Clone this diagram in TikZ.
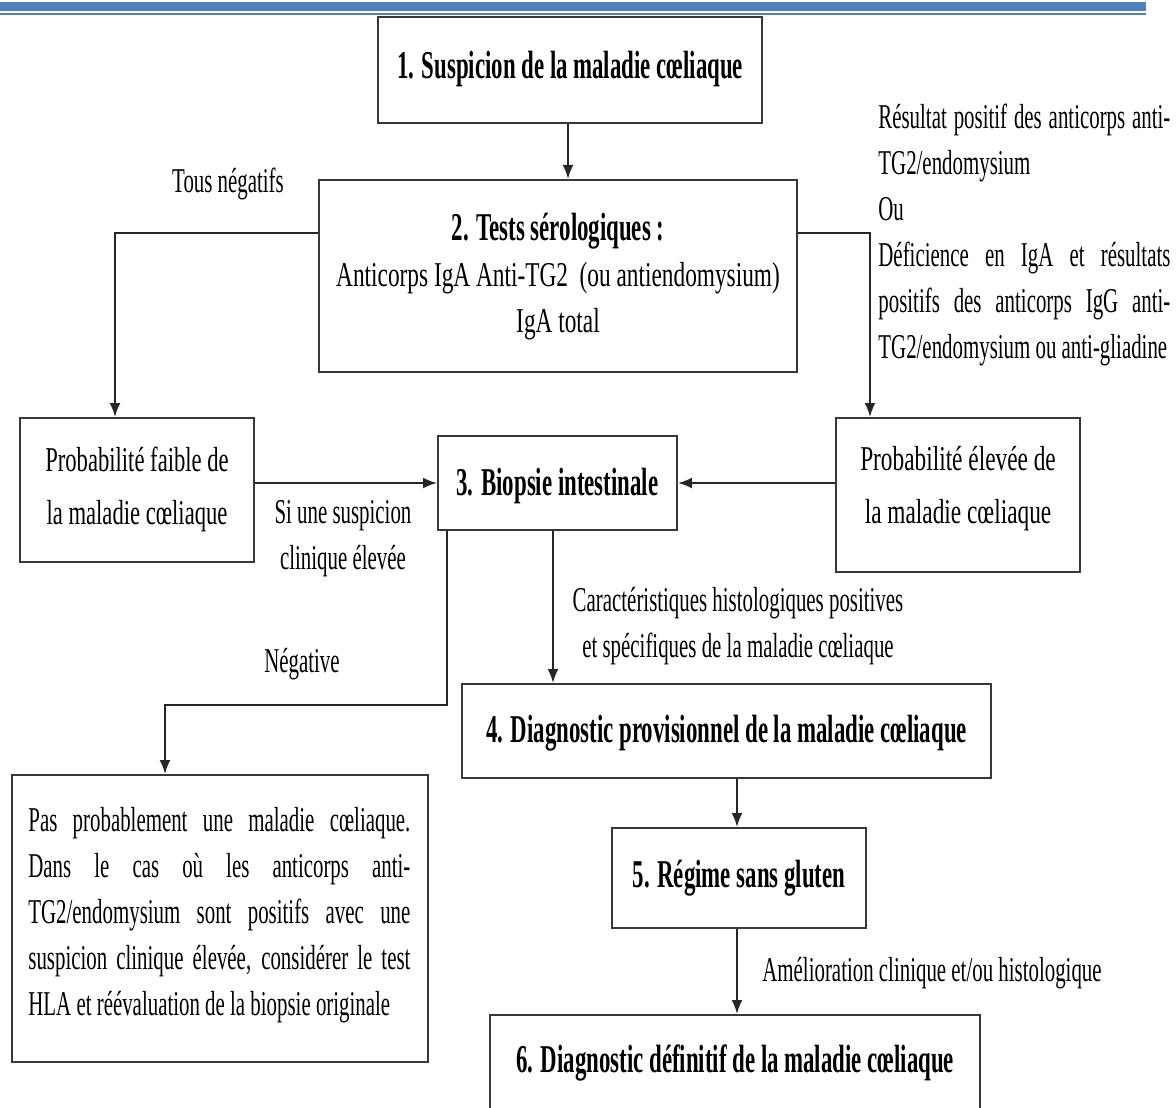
\documentclass[tikz,border=0pt]{standalone}
\usepackage{fontspec}
\setmainfont{Liberation Serif}[FakeStretch=0.67]
\newfontfamily\titlefont{Liberation Serif}[FakeStretch=0.58]
\newfontfamily\labfont{Liberation Serif}[FakeStretch=0.6]
\newfontfamily\boxlfont{Liberation Serif}[FakeStretch=0.65]
\usetikzlibrary{arrows.meta}
\definecolor{hdrblue}{HTML}{4F81BD}
\newcommand{\bodytxt}{\fontsize{17.4}{23}\selectfont}
\newcommand{\boxtxt}{\fontsize{17.4}{26.5}\selectfont}
\newcommand{\labtxt}{\labfont\fontsize{17.4}{23}\selectfont}
\newcommand{\boxltxt}{\boxlfont\fontsize{17.4}{26.5}\selectfont}
\newcommand{\ttl}{\titlefont\bfseries\fontsize{19.7}{23.5}\selectfont}
\newcommand{\jl}[2]{\makebox[#1][s]{#2}}
\begin{document}
\begin{tikzpicture}[x=0.5pt,y=-0.5pt,
  box/.style={draw=black!78,line width=1pt,inner sep=0pt,fill=white},
  txt/.style={inner sep=0pt,align=center,font=\bodytxt},
  ltxt/.style={inner sep=0pt,align=center,font=\labtxt},
  ttxt/.style={inner sep=0pt,align=center,font=\ttl},
  arr/.style={line width=1pt,draw=black!85,-{Latex[length=7pt,width=5.5pt]}}]
\useasboundingbox (0,0) rectangle (1176,1107);
\clip (0,0) rectangle (1176,1107);
% header lines
\fill[hdrblue] (0,2) rectangle (1146,11);
\fill[hdrblue] (0,13) rectangle (1146,15.5);
% boxes
\node[box,minimum width=192pt,minimum height=53pt] (b1) at (570,70) {};
\node[box,minimum width=239pt,minimum height=96pt] (b2) at (558,276) {};
\node[box,minimum width=117pt,minimum height=72pt] (bL) at (137,490) {};
\node[box,minimum width=119.5pt,minimum height=47pt] (b3) at (557.5,483) {};
\node[box,minimum width=122pt,minimum height=77pt] (bR) at (958,495) {};
\node[box,minimum width=264.5pt,minimum height=47pt] (b4) at (726.5,731) {};
\node[box,minimum width=127pt,minimum height=50pt] (b5) at (739,878) {};
\node[box,minimum width=245pt,minimum height=52pt] (b6) at (735,1067) {};
\node[box,minimum width=208pt,minimum height=143.5pt] (bBL) at (220,918.5) {};
% texts in boxes
\node[ttxt] (t1) at (570,69) {1. Suspicion de la maladie cœliaque};
\node[txt] (t2) at (558,277) {{\ttl 2. Tests sérologiques :}\\Anticorps IgA Anti-TG2~ (ou antiendomysium)\\IgA total};
\node[txt,font=\boxltxt] (tL) at (137,489) {Probabilité faible de\\la maladie cœliaque};
\node[ttxt] (t3) at (557.5,486) {3. Biopsie intestinale};
\node[txt,font=\boxtxt] (tR) at (958,489) {Probabilité élevée de\\la maladie cœliaque};
\node[ttxt] (t4) at (726.5,733) {4. Diagnostic provisionnel de la maladie cœliaque};
\node[ttxt] (t5) at (739,878) {5. Régime sans gluten};
\node[ttxt] (t6) at (735,1063) {6. Diagnostic définitif de la maladie cœliaque};
\node[ltxt,align=left,anchor=north west] (tBL) at (28,807) {%
\jl{191pt}{Pas probablement une maladie cœliaque.}\\
\jl{191pt}{Dans le cas où les anticorps anti-}\\
\jl{191pt}{TG2/endomysium sont positifs avec une}\\
\jl{191pt}{suspicion clinique élevée, considérer le test}\\
HLA et réévaluation de la biopsie originale};
% side labels
\node[ltxt,align=left,anchor=north west] (lab1) at (878,104) {%
\jl{146pt}{Résultat positif des anticorps anti-}\\
TG2/endomysium\\
Ou\\
\jl{146pt}{Déficience en IgA et résultats}\\
\jl{146pt}{positifs des anticorps IgG anti-}\\
TG2/endomysium ou anti-gliadine};
\node[ltxt] (lab2) at (228,184) {Tous négatifs};
\node[ltxt] (lab3) at (343,539) {Si une suspicion\\clinique élevée};
\node[ltxt] (lab4) at (302,664) {Négative};
\node[ltxt] (lab5) at (738,626) {Caractéristiques histologiques positives\\et spécifiques de la maladie cœliaque};
\node[ltxt] (lab6) at (932,973) {Amélioration clinique et/ou histologique};
% routing coordinates
\coordinate (c12) at (568,0);
\coordinate (cl) at (115,233);
\coordinate (cr) at (870,233);
\coordinate (c3a) at (447,705);
\coordinate (c3b) at (165,705);
\coordinate (c34) at (553,0);
\coordinate (c45) at (737,0);
% connectors
\draw[arr] (b1.south -| c12) -- (b2.north -| c12);
\draw[arr] (b2.west |- cl) -| (bL.north -| cl);
\draw[arr] (b2.east |- cr) -| (bR.north -| cr);
\draw[arr] (bL.east |- b3.west) -- (b3.west);
\draw[arr] (bR.west |- b3.east) -- (b3.east);
\draw[arr] (b3.south -| c3a) -- (c3a) -| (bBL.north -| c3b);
\draw[arr] (b3.south -| c34) -- (b4.north -| c34);
\draw[arr] (b4.south -| c45) -- (b5.north -| c45);
\draw[arr] (b5.south -| c45) -- (b6.north -| c45);
\end{tikzpicture}
\end{document}
